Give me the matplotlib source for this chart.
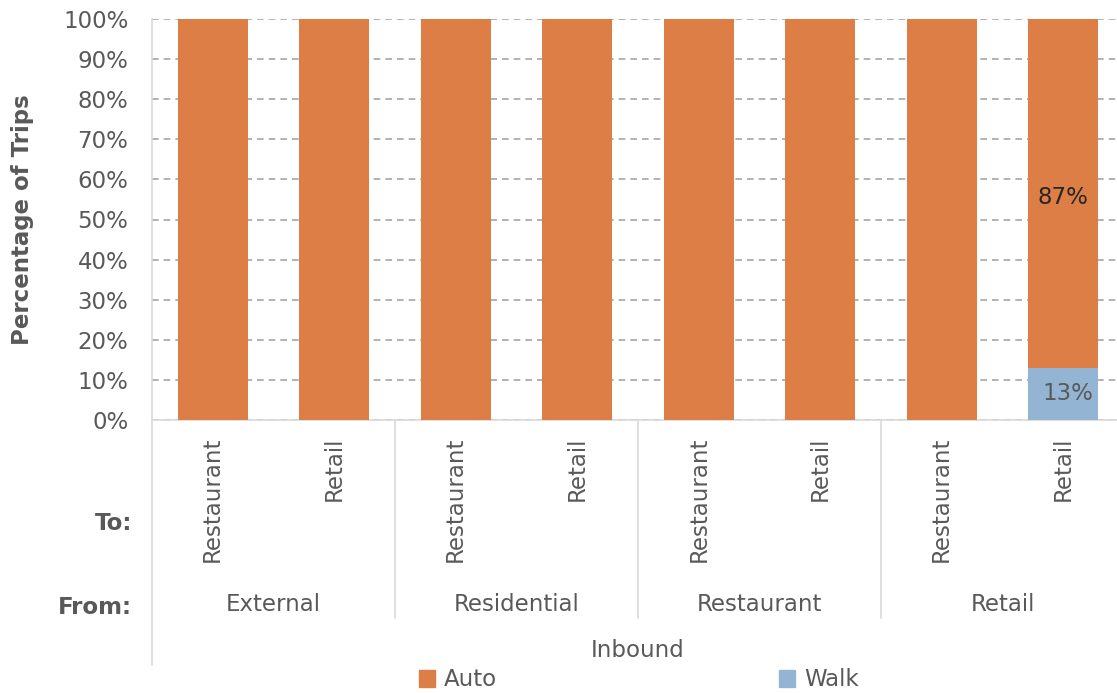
import matplotlib.pyplot as plt
from matplotlib.patches import Patch
import numpy as np

to_labels = ['Restaurant', 'Retail'] * 4
from_labels = ['External', 'Residential', 'Restaurant', 'Retail']
auto = [100, 100, 100, 100, 100, 100, 100, 87]
walk = [0, 0, 0, 0, 0, 0, 0, 13]

c_auto = '#DD7E46'
c_walk = '#93B5D3'
c_text = '#595959'
c_line = '#D9D9D9'
fs = 16.5

plt.rcParams['font.family'] = ['DejaVu Sans']

W, H = 1117, 693
fig = plt.figure(figsize=(W / 100, H / 100), dpi=100)
# plot area runs past the right edge of the figure
ax = fig.add_axes([152 / W, 1 - 420 / H, 972 / W, 401 / H])

x = np.arange(len(to_labels))
auto_f = np.array(auto) / 100
walk_f = np.array(walk) / 100
ax.bar(x, walk_f, width=0.576, color=c_walk, zorder=3)
ax.bar(x, auto_f, width=0.576, bottom=walk_f, color=c_auto, zorder=3)

# value labels on the mixed bar only
for i in range(len(x)):
    if walk[i] > 0:
        ax.text(x[i] + 0.04, walk_f[i] / 2, f'{walk[i]}%', ha='center', va='center',
                fontsize=fs, color=c_text, zorder=4)
        ax.text(x[i], walk_f[i] + auto_f[i] / 2 - 0.01, f'{auto[i]}%', ha='center',
                va='center', fontsize=fs, color='#262626', zorder=4)

ax.set_xlim(-0.5, 7.5)
ax.set_ylim(0, 1)
ax.set_yticks(np.arange(0, 1.01, 0.1))
ax.set_yticklabels([f'{int(round(v * 100))}%' for v in np.arange(0, 1.01, 0.1)])
ax.yaxis.grid(True, color='#A6A6A6', linestyle=(0, (4, 3)), linewidth=1.2, zorder=0)
ax.tick_params(axis='y', length=0, labelsize=fs, labelcolor=c_text, pad=17)

ax.set_xticks(x)
ax.set_xticklabels(to_labels, rotation=90, va='top', ha='center')
ax.tick_params(axis='x', length=0, labelsize=fs, labelcolor=c_text, pad=12)

for s in ['top', 'right']:
    ax.spines[s].set_visible(False)
ax.spines['left'].set_color(c_line)
ax.spines['bottom'].set_color(c_line)
ax.spines['left'].set_linewidth(1.2)
ax.spines['bottom'].set_linewidth(1.2)

# category axis frame lines below the plot
tr = ax.get_xaxis_transform()
ax.plot([-0.5, -0.5], [0, -0.611], transform=tr, color=c_line, lw=1.2, clip_on=False)
for g in range(1, len(from_labels)):
    ax.plot([2 * g - 0.5] * 2, [0, -0.494], transform=tr, color=c_line, lw=1.2, clip_on=False)

for g, name in enumerate(from_labels):
    ax.text(2 * g + 0.5, -0.459, name, transform=tr, ha='center', va='center',
            fontsize=fs, color=c_text)
ax.text(3.5, -0.574, 'Inbound', transform=tr, ha='center', va='center',
        fontsize=fs, color=c_text)

fig.text(132 / W, 1 - 523 / H, 'To:', ha='right', va='center', fontsize=fs,
         fontweight='bold', color=c_text)
fig.text(132 / W, 1 - 608 / H, 'From:', ha='right', va='center', fontsize=fs,
         fontweight='bold', color=c_text)

ax.set_ylabel('Percentage of Trips', fontsize=fs, fontweight='bold', color=c_text)
ax.yaxis.set_label_coords(-0.121, 0.5)

handles = [Patch(color=c_auto, label='Auto'), Patch(color=c_walk, label='Walk')]
fig.legend(handles=handles, loc='center', bbox_to_anchor=(639 / W, 1 - 680 / H), ncol=2,
           frameon=False, fontsize=fs, handlelength=0.7, handleheight=0.7,
           handletextpad=0.4, columnspacing=12.3, labelcolor=c_text, borderpad=0)

fig.savefig('out.png', dpi=100)
